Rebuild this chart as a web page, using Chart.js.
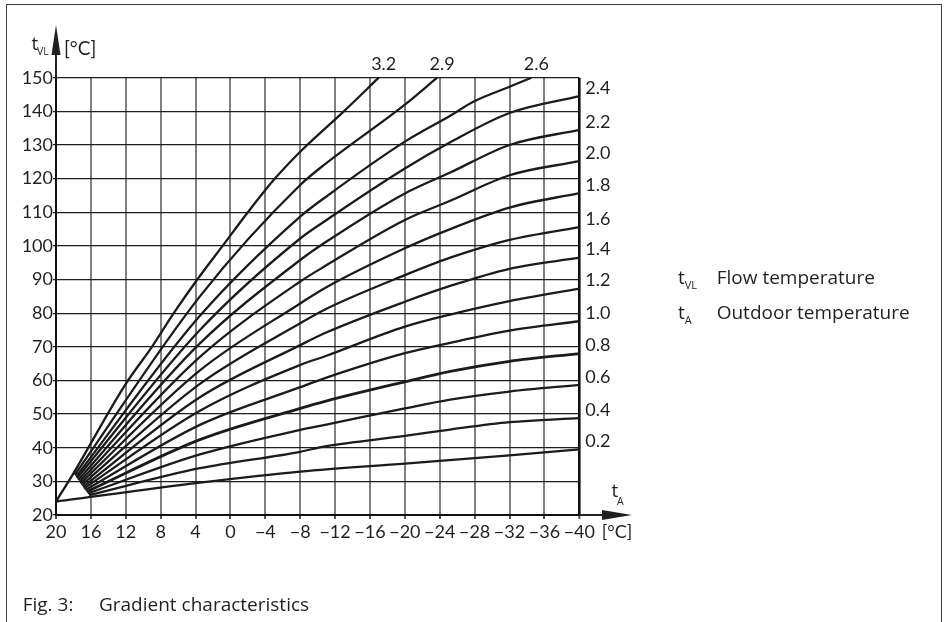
<!DOCTYPE html>
<html>
<head>
<meta charset="utf-8">
<script src="https://cdn.jsdelivr.net/npm/chart.js@4.4.1/dist/chart.umd.min.js"></script>
<style>
  html, body { margin: 0; padding: 0; background: #fff; }
  body { width: 945px; height: 622px; position: relative; overflow: hidden;
         font-family: "Open Sans", sans-serif; color: #231f20; }
  #frame { position: absolute; left: 6px; top: 4px; width: 936px; height: 700px;
           border: 1.5px solid #3c3c3c; box-sizing: border-box; }
  #chart { position: absolute; left: 0; top: 0; }
  .leg { position: absolute; left: 678px; font-size: 19px; line-height: 19px; white-space: nowrap; }
  .leg .sym { display: inline-block; width: 38.7px; }
  sub { font-size: 11px; vertical-align: -5px; line-height: 0; }
  #cap { position: absolute; left: 22.7px; top: 595px; font-size: 19px; line-height: 19px; white-space: nowrap; }
  #cap .num { display: inline-block; width: 76.3px; }
</style>
</head>
<body>
<div id="frame"></div>
<canvas id="chart" width="945" height="622"></canvas>
<div class="leg" style="top:268px"><span class="sym">t<sub>VL</sub></span>Flow temperature</div>
<div class="leg" style="top:303px"><span class="sym">t<sub>A</sub></span>Outdoor temperature</div>
<div id="cap"><span class="num">Fig. 3:</span>Gradient characteristics</div>
<script>
/* ── Data ─────────────────────────────────────────────── */
const ink = '#231f20';
const curveLabels = ['3.2','2.9','2.6','2.4','2.2','2.0','1.8','1.6','1.4','1.2','1.0','0.8','0.6','0.4','0.2'];
const outdoorTicks = [20, 16, 12, 8, 4, 0, -4, -8, -12, -16, -20, -24, -28, -32, -36, -40];
const flowTicks = [20, 30, 40, 50, 60, 70, 80, 90, 100, 110, 120, 130, 140, 150];

/* steep curves, read along their own course up to 150 °C */
const tA_32  = [20, 18, 12, 9, 6.5, 3.8, 0.9, -2, -5.1, -8, -13, -17];
const tVL_32 = [24, 32.4, 59, 70, 80, 90, 100, 110, 120, 128, 140, 150];
const tA_29  = [17.85, 3.5, -8, -10.85, -20, -23.7];
const tVL_29 = [31.9, 85.0, 118.1, 124.3, 142.0, 150];
const tA_26  = [17.7, 3.5, -8, -10.85, -20, -25.2, -27.9, -32, -34.5];
const tVL_26 = [31.4, 79.2, 108.7, 114.4, 131.0, 138.7, 142.9, 147.3, 150];

/* flatter curves: start in the fan, then read at the same outdoor temps */
const tA_start  = [17.6, 17.45, 17.3, 17.2, 17.05, 16.9, 16.8, 16.65, 16.5, 16.35, 16.2];
const tVL_start = [30.9, 30.4, 29.9, 29.4, 28.9, 28.4, 27.9, 27.4, 26.9, 26.4, 25.9];
const tA_read = [3.5, -8, -10.85, -20, -25.2, -32, -40];
const tVL_24 = [75.0, 102.2, 107.4, 123.0, 130.8, 139.5, 144.5];
const tVL_22 = [71.0, 95.8, 101.0, 115.6, 121.8, 130.0, 134.5];
const tVL_20 = [67.0, 89.4, 94.0, 107.7, 113.4, 121.0, 125.2];
const tVL_18 = [63.0, 82.9, 87.5, 99.3, 105.0, 111.4, 115.7];
const tVL_16 = [59.0, 77.0, 81.1, 91.3, 96.5, 101.8, 105.6];
const tVL_14 = [55.0, 70.5, 74.1, 83.4, 88.1, 93.2, 96.5];
const tVL_12 = [51.0, 64.6, 67.2, 76.0, 79.6, 83.6, 87.3];
const tVL_10 = [46.8, 58.0, 60.7, 68.1, 71.2, 74.8, 77.6];
const tVL_08 = [42.4, 51.7, 53.8, 59.6, 62.7, 65.7, 68.0];
const tVL_06 = [38.0, 45.3, 46.8, 51.7, 54.3, 56.7, 58.7];
const tVL_04 = [33.9, 38.8, 40.4, 43.5, 45.4, 47.6, 48.8];

const tA_02  = [20, 3.5, -8, -20, -32, -40];
const tVL_02 = [24, 29.6, 32.9, 35.3, 37.7, 39.5];

/* ── Build the series ─────────────────────────────────── */
const pts = (xs, ys) => xs.map((v, i) => ({ x: v, y: ys[i] }));
const flat = [tVL_24, tVL_22, tVL_20, tVL_18, tVL_16, tVL_14, tVL_12, tVL_10, tVL_08, tVL_06, tVL_04];
const series = [
  pts(tA_32, tVL_32), pts(tA_29, tVL_29), pts(tA_26, tVL_26),
  ...flat.map((ys, i) => pts([tA_start[i], ...tA_read], [tVL_start[i], ...ys])),
  pts(tA_02, tVL_02)
];

const minus = v => (v < 0 ? '\u2212' + (-v) : String(v));

/* axis arrows, axis names and curve labels */
const decor = {
  id: 'decor',
  afterDraw(chart) {
    const { ctx, chartArea: a, scales: { x, y } } = chart;
    ctx.save();
    ctx.fillStyle = ink; ctx.strokeStyle = ink; ctx.lineWidth = 2;

    ctx.beginPath(); ctx.moveTo(a.left, a.top); ctx.lineTo(a.left, a.top - 24); ctx.stroke();
    ctx.beginPath();
    ctx.moveTo(a.left, a.top - 52.7);
    ctx.lineTo(a.left - 4.5, a.top - 22.7);
    ctx.lineTo(a.left + 4.5, a.top - 22.7);
    ctx.closePath(); ctx.fill();

    ctx.beginPath(); ctx.moveTo(a.right, a.bottom); ctx.lineTo(a.right + 24, a.bottom); ctx.stroke();
    ctx.beginPath();
    ctx.moveTo(a.right + 52.7, a.bottom);
    ctx.lineTo(a.right + 22.7, a.bottom - 5);
    ctx.lineTo(a.right + 22.7, a.bottom + 5);
    ctx.closePath(); ctx.fill();

    /* axis names */
    ctx.textBaseline = 'alphabetic'; ctx.textAlign = 'left';
    ctx.font = '19px "Open Sans"';
    ctx.fillText('t', 31.5, 50);
    ctx.fillText('t', 611.5, 497);
    ctx.font = '10.5px "Open Sans"';
    ctx.fillText('VL', 37, 55);
    ctx.fillText('A', 617, 505);
    ctx.font = '19px Lato';
    ctx.fillText('[°C]', 64, 55);
    ctx.font = '18px Lato'; ctx.textBaseline = 'middle';
    ctx.fillText('[°C]', a.right + 22.5, a.bottom + 17);

    /* curve labels at the end of each curve */
    chart.data.datasets.forEach(ds => {
      const last = ds.data[ds.data.length - 1];
      const px = x.getPixelForValue(last.x), py = y.getPixelForValue(last.y);
      if (last.y >= y.max) {
        ctx.textAlign = 'center';
        ctx.fillText(ds.label, px + 5, a.top - 14);
      } else {
        ctx.textAlign = 'left';
        ctx.fillText(ds.label, a.right + 6, py - 8);
      }
    });
    ctx.restore();
  }
};

Chart.defaults.font.family = 'Lato';
Chart.defaults.font.size = 18;
Chart.defaults.color = ink;

new Chart(document.getElementById('chart'), {
  type: 'line',
  data: {
    datasets: series.map((d, i) => ({
      label: curveLabels[i],
      data: d,
      borderColor: '#1b1b1b',
      borderWidth: curveLabels[i] === '0.8' ? 2.8 : 2.3,
      pointRadius: 0,
      fill: false,
      cubicInterpolationMode: 'monotone',
      clip: 4
    }))
  },
  options: {
    responsive: false,
    animation: false,
    devicePixelRatio: 1,
    layout: { padding: { left: 0, top: 77.7, right: 365.7, bottom: 0 } },
    plugins: { legend: { display: false }, tooltip: { enabled: false } },
    scales: {
      x: {
        type: 'linear', reverse: true, min: -40, max: 20,
        afterBuildTicks: s => { s.ticks = outdoorTicks.map(v => ({ value: v })); },
        afterFit: s => { s.height = 107; },
        ticks: { padding: 2, autoSkip: false, maxRotation: 0, callback: v => minus(v) },
        grid: {
          color: c => (c.tick && c.tick.value === -40 ? '#111' : '#808080'),
          lineWidth: c => (c.tick && c.tick.value === -40 ? 2.6 : 2),
          tickLength: 4, tickColor: '#555', tickWidth: 2
        },
        border: { display: true, color: '#111', width: 2 }
      },
      y: {
        type: 'linear', min: 20, max: 150,
        afterBuildTicks: s => { s.ticks = flowTicks.map(v => ({ value: v })); },
        afterFit: s => { s.width = 56; },
        ticks: { padding: 0, autoSkip: false },
        grid: { color: '#1e1e1e', lineWidth: 1.2, tickLength: 3, tickColor: '#1e1e1e' },
        border: { display: true, color: '#111', width: 2 }
      }
    }
  },
  plugins: [decor]
});
</script>
</body>
</html>
